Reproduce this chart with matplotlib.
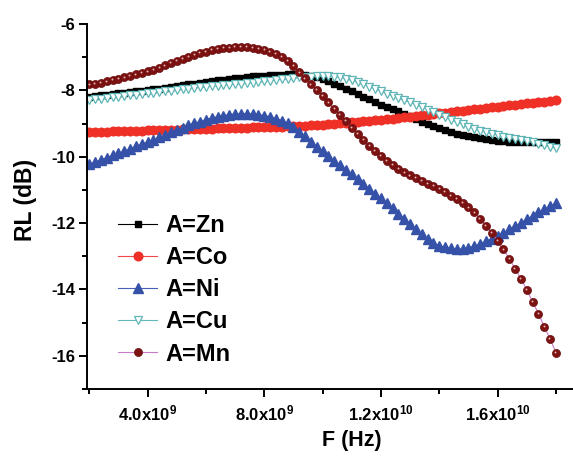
import numpy as np
import matplotlib
matplotlib.use('Agg')
import matplotlib.pyplot as plt
from matplotlib.transforms import offset_copy

plt.rcParams['font.family'] = ['Liberation Sans', 'DejaVu Sans']
plt.rcParams['font.weight'] = 'bold'
plt.rcParams['axes.unicode_minus'] = False
plt.rcParams['mathtext.fontset'] = 'custom'
plt.rcParams['mathtext.rm'] = 'Liberation Sans:bold'
plt.rcParams['mathtext.it'] = 'Liberation Sans:bold'
plt.rcParams['mathtext.bf'] = 'Liberation Sans:bold'
plt.rcParams['mathtext.default'] = 'bf'

# frequency grid, 0.2 GHz step from 2 to 18 GHz
freq = np.linspace(2e9, 1.8e10, 81)

rl_zn = [-8.19, -8.17, -8.15, -8.13, -8.11, -8.09, -8.07, -8.05, -8.03, -8.01,
         -7.99, -7.97, -7.95, -7.92, -7.90, -7.87, -7.85, -7.82, -7.80, -7.77,
         -7.75, -7.72, -7.70, -7.68, -7.66, -7.64, -7.62, -7.60, -7.58, -7.57,
         -7.56, -7.55, -7.54, -7.53, -7.52, -7.52, -7.52, -7.54, -7.56, -7.60,
         -7.66, -7.73, -7.80, -7.87, -7.95, -8.03, -8.11, -8.19, -8.27, -8.35,
         -8.43, -8.50, -8.57, -8.63, -8.70, -8.78, -8.86, -8.94, -9.01, -9.08,
         -9.14, -9.20, -9.25, -9.30, -9.34, -9.38, -9.42, -9.45, -9.48, -9.51,
         -9.53, -9.54, -9.55, -9.56, -9.57, -9.57, -9.57, -9.57, -9.57, -9.57,
         -9.57]

rl_co = [-9.25, -9.25, -9.24, -9.24, -9.23, -9.23, -9.22, -9.22, -9.21, -9.21,
         -9.20, -9.20, -9.19, -9.19, -9.18, -9.18, -9.17, -9.17, -9.16, -9.16,
         -9.15, -9.15, -9.14, -9.14, -9.13, -9.13, -9.12, -9.12, -9.11, -9.11,
         -9.10, -9.10, -9.09, -9.09, -9.08, -9.08, -9.07, -9.06, -9.05, -9.04,
         -9.03, -9.01, -9.00, -8.98, -8.97, -8.95, -8.94, -8.92, -8.91, -8.89,
         -8.88, -8.86, -8.85, -8.83, -8.81, -8.79, -8.77, -8.75, -8.73, -8.71,
         -8.69, -8.67, -8.65, -8.63, -8.61, -8.59, -8.57, -8.55, -8.53, -8.51,
         -8.49, -8.47, -8.45, -8.43, -8.41, -8.39, -8.37, -8.35, -8.34, -8.32,
         -8.30]

rl_ni = [-10.23, -10.16, -10.09, -10.03, -9.96, -9.90, -9.83, -9.76, -9.69, -9.62,
         -9.56, -9.50, -9.42, -9.34, -9.26, -9.19, -9.12, -9.05, -8.99, -8.94,
         -8.88, -8.83, -8.79, -8.76, -8.73, -8.71, -8.70, -8.70, -8.71, -8.73,
         -8.76, -8.80, -8.85, -8.91, -8.99, -9.10, -9.24, -9.39, -9.55, -9.70,
         -9.84, -9.98, -10.12, -10.25, -10.39, -10.53, -10.67, -10.82, -10.96, -11.11,
         -11.25, -11.40, -11.56, -11.72, -11.87, -12.02, -12.18, -12.34, -12.49, -12.60,
         -12.68, -12.73, -12.76, -12.78, -12.78, -12.75, -12.70, -12.63, -12.55, -12.47,
         -12.38, -12.29, -12.19, -12.09, -11.99, -11.88, -11.78, -11.68, -11.58, -11.49,
         -11.40]

rl_cu = [-8.29, -8.27, -8.25, -8.23, -8.21, -8.19, -8.17, -8.15, -8.13, -8.11,
         -8.09, -8.07, -8.05, -8.03, -8.01, -7.99, -7.97, -7.95, -7.93, -7.91,
         -7.89, -7.87, -7.86, -7.84, -7.83, -7.81, -7.80, -7.78, -7.77, -7.75,
         -7.73, -7.71, -7.69, -7.67, -7.65, -7.63, -7.61, -7.60, -7.59, -7.58,
         -7.58, -7.58, -7.59, -7.61, -7.65, -7.70, -7.76, -7.82, -7.89, -7.96,
         -8.03, -8.10, -8.17, -8.24, -8.30, -8.36, -8.43, -8.50, -8.58, -8.66,
         -8.74, -8.81, -8.88, -8.95, -9.02, -9.09, -9.15, -9.21, -9.26, -9.31,
         -9.35, -9.40, -9.44, -9.47, -9.50, -9.53, -9.57, -9.61, -9.65, -9.70,
         -9.75]

rl_mn = [-7.82, -7.80, -7.77, -7.73, -7.69, -7.65, -7.61, -7.57, -7.52, -7.48,
         -7.43, -7.38, -7.32, -7.25, -7.18, -7.11, -7.04, -6.98, -6.92, -6.87,
         -6.83, -6.79, -6.76, -6.73, -6.71, -6.70, -6.69, -6.70, -6.71, -6.74,
         -6.77, -6.83, -6.90, -6.99, -7.11, -7.27, -7.46, -7.64, -7.82, -7.99,
         -8.17, -8.36, -8.55, -8.74, -8.93, -9.13, -9.32, -9.50, -9.67, -9.83,
         -9.98, -10.12, -10.25, -10.37, -10.47, -10.56, -10.65, -10.73, -10.81, -10.89,
         -10.98, -11.07, -11.17, -11.28, -11.40, -11.53, -11.68, -11.87, -12.08, -12.30,
         -12.53, -12.79, -13.08, -13.37, -13.68, -14.01, -14.37, -14.73, -15.12, -15.50,
         -15.90]

xticks = [4e9, 8e9, 1.2e10, 1.6e10]
xtick_labels = [r'$\mathbf{4.0x10^{9}}$', r'$\mathbf{8.0x10^{9}}$',
                r'$\mathbf{1.2x10^{10}}$', r'$\mathbf{1.6x10^{10}}$']
xminor = [2e9, 6e9, 1e10, 1.4e10, 1.8e10]
yticks = [-16, -14, -12, -10, -8, -6]
yminor = [-17, -15, -13, -11, -9, -7]

fig = plt.figure(figsize=(5.73, 4.59), dpi=100)
ax = fig.add_axes([87 / 573, 70 / 459, 486 / 573, 365 / 459])

ax.plot(freq, rl_zn, color='black', lw=0.8, marker='s', ms=4.2,
        mfc='black', mec='black', label='A=Zn')
ax.plot(freq, rl_co, color='#f04848', lw=0.8, marker='o', ms=6.2,
        mfc='#ee3026', mec='#ee3026', label='A=Co')
ax.plot(freq, rl_ni, color='#4a60b8', lw=0.8, marker='^', ms=6.6,
        mfc='#3552a8', mec='#3552a8', label='A=Ni')
ax.plot(freq, rl_cu, color='#62b8b8', lw=0.8, marker='v', ms=6.4,
        mfc='white', mec='#5fb5b5', mew=0.9, label='A=Cu')
ax.plot(freq, rl_mn, color='#c87ac8', lw=0.8, marker='o', ms=5.8,
        mfc='#7d1212', mec='#6a0c0c', mew=0.5, label='A=Mn')
# small highlight on the Mn spheres
hl = offset_copy(ax.transData, fig=fig, x=-0.8, y=0.8, units='dots')
ax.plot(freq, rl_mn, ls='none', marker='o', ms=1.4, mfc='#e6b4b4',
        mec='none', transform=hl)

ax.set_xlim(1.921e9, 1.8583e10)
ax.set_ylim(-17, -6)

ax.set_xticks(xticks)
ax.set_xticklabels(xtick_labels)
ax.set_xticks(xminor, minor=True)
ax.set_yticks(yticks)
ax.set_yticklabels([str(v) for v in yticks], fontweight='bold')
ax.set_yticks(yminor, minor=True)

for s in ['top', 'right']:
    ax.spines[s].set_visible(False)
for s in ['left', 'bottom']:
    ax.spines[s].set_linewidth(1.4)

ax.tick_params(which='major', direction='out', length=5.6, width=1.4,
               labelsize=12, pad=3.0)
ax.tick_params(which='minor', direction='out', length=3.4, width=1.4)
ax.tick_params(axis='x', which='major', pad=5)

ax.set_xlabel('F (Hz)', fontsize=15.5, fontweight='bold')
ax.set_ylabel('RL (dB)', fontsize=16.5, fontweight='bold')
ax.xaxis.set_label_coords(0.545, -0.112)
ax.yaxis.set_label_coords(-0.103, 0.518)

ax.legend(loc='center left', bbox_to_anchor=(0.064, 0.272), frameon=False,
          numpoints=1, handlelength=1.65, handletextpad=0.35,
          labelspacing=0.39, borderpad=0, borderaxespad=0,
          prop={'weight': 'bold', 'size': 17})

fig.savefig('out.png', dpi=100)
